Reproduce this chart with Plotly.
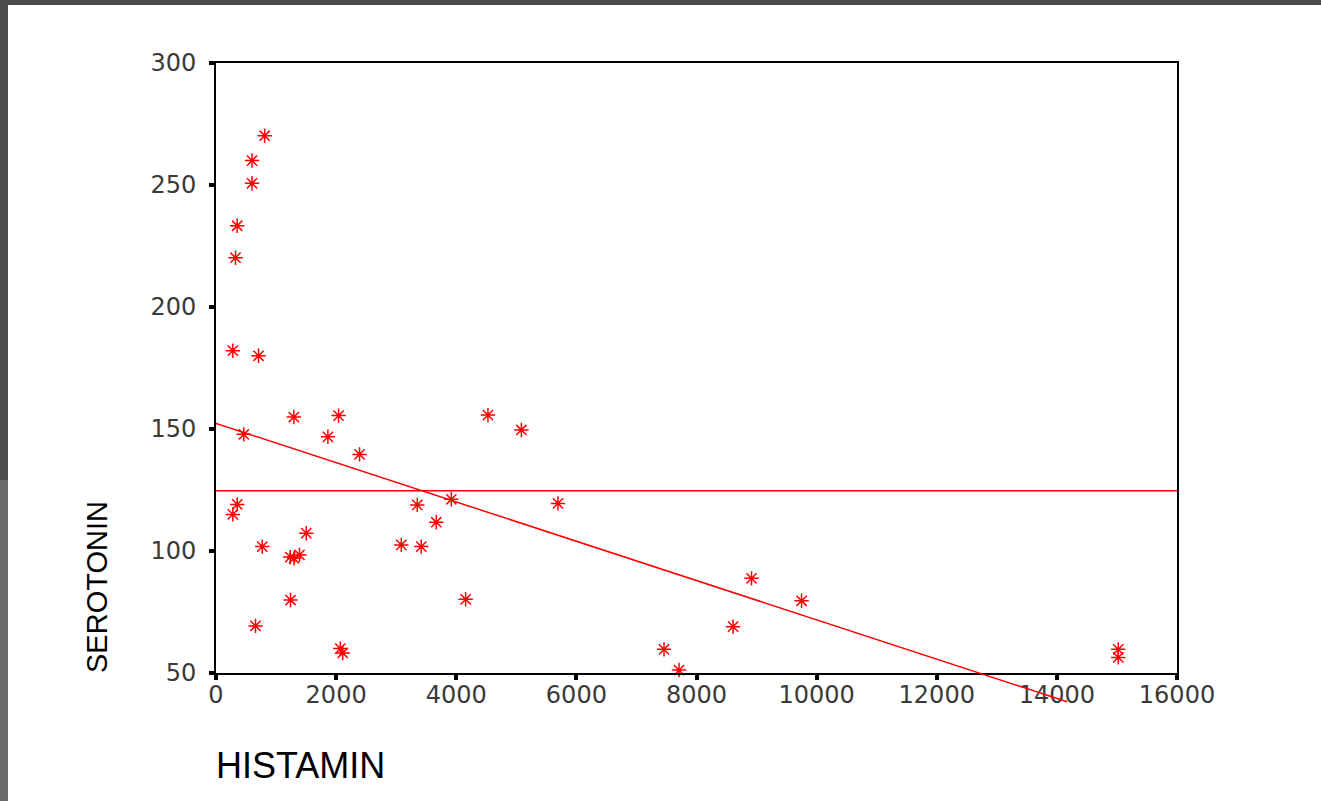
import plotly.graph_objects as go

# ---- data ----
histamin = [810, 600, 600, 353, 325, 280, 708, 1296, 2041, 1863, 463, 2390,
            353, 280, 770, 1503, 1236, 1300, 1390, 1241, 658, 2070, 2110,
            4528, 5084, 3351, 3918, 5694, 3668, 3085, 3418, 4156,
            8916, 9749, 8609, 7459, 7709, 15022, 15022]
serotonin = [270.2, 260, 250.7, 233.3, 220.2, 182.1, 180, 154.9, 155.5, 146.8, 147.8, 139.6,
             119.1, 115, 101.8, 107.3, 97.5, 97, 98.4, 79.9, 69.3, 60, 58.2,
             155.7, 149.6, 118.9, 121.2, 119.5, 111.8, 102.5, 101.8, 80.2,
             88.8, 79.6, 69, 59.7, 51.2, 59.7, 56.4]
fit_x = [0, 14170]          # fitted regression line end points
fit_y = [152.3, 38.2]
mean_x = [0, 16000]         # mean line
mean_y = [124.7, 124.7]

x_ticks = [0, 2000, 4000, 6000, 8000, 10000, 12000, 14000, 16000]
x_ticktext = ["0", "2000", "4000", "6000", "8000", "10000", "12000", "14000", "16000"]
y_ticks = [50, 100, 150, 200, 250, 300]
y_ticktext = ["50", "100", "150", "200", "250", "300"]
x_title = "HISTAMIN"
y_title = "SEROTONIN"

# ---- layout geometry (pixels) ----
W, H = 1321, 801
L, R, T, B = 216, 144, 63, 81
plot_w = W - L - R
plot_h = H - T - B
axis_bottom_px = 673
d0 = (H - B - axis_bottom_px) / plot_h   # main y-axis domain start
ymin, ymax = 50, 300
y2min = ymin - (ymax - ymin) * d0 / (1 - d0)


def px_x(px):
    return (px - L) / plot_w


def px_y(py):
    return (H - B - py) / plot_h


RED = "#ff0000"
tickfont = dict(family="DejaVu Sans", size=24, color="#3a3a3a")

fig = go.Figure()
fig.add_trace(go.Scatter(x=mean_x, y=mean_y, mode="lines", xaxis="x", yaxis="y",
                         line=dict(color=RED, width=1.5), hoverinfo="skip"))
fig.add_trace(go.Scatter(x=fit_x, y=fit_y, mode="lines", xaxis="x", yaxis="y2",
                         line=dict(color=RED, width=1.5), hoverinfo="skip"))
fig.add_trace(go.Scatter(x=histamin, y=serotonin, mode="markers", xaxis="x", yaxis="y",
                         marker=dict(symbol="asterisk-open", size=12,
                                     line=dict(color=RED, width=1.5), color=RED),
                         cliponaxis=False))

fig.update_layout(
    width=W, height=H,
    margin=dict(l=L, r=R, t=T, b=B, pad=0),
    paper_bgcolor="white", plot_bgcolor="rgba(0,0,0,0)",
    showlegend=False,
    xaxis=dict(range=[0, 16000], tickvals=x_ticks, ticktext=x_ticktext,
               domain=[0, 1], anchor="y",
               showline=True, linewidth=2, linecolor="black", mirror=True,
               ticks="outside", ticklen=5, tickwidth=4, tickcolor="black",
               showgrid=False, zeroline=False, tickfont=tickfont,
               ticklabelstandoff=-6),
    yaxis=dict(range=[ymin, ymax], tickvals=y_ticks, ticktext=y_ticktext,
               domain=[d0, 1], anchor="x",
               showline=True, linewidth=2, linecolor="black", mirror=True,
               ticks="outside", ticklen=5, tickwidth=4, tickcolor="black",
               showgrid=False, zeroline=False, tickfont=tickfont,
               ticklabelstandoff=8),
    yaxis2=dict(range=[y2min, ymax], domain=[0, 1], anchor="x", visible=False,
                showgrid=False, zeroline=False),
)

# window frame bands
fig.add_shape(type="rect", xref="paper", yref="paper",
              x0=px_x(0), x1=px_x(W), y0=px_y(5), y1=px_y(0),
              fillcolor="#4b4b4b", line_width=0, layer="above")
fig.add_shape(type="rect", xref="paper", yref="paper",
              x0=px_x(0), x1=px_x(8), y0=px_y(480), y1=px_y(0),
              fillcolor="#4b4b4b", line_width=0, layer="above")
fig.add_shape(type="rect", xref="paper", yref="paper",
              x0=px_x(0), x1=px_x(8), y0=px_y(H), y1=px_y(480),
              fillcolor="#6a6a6a", line_width=0, layer="above")

fig.add_annotation(text=x_title, xref="paper", yref="paper",
                   x=px_x(214), y=px_y(765), xanchor="left", yanchor="middle",
                   showarrow=False,
                   font=dict(family="Liberation Sans", size=36, color="black"))
fig.add_annotation(text=y_title, xref="paper", yref="paper",
                   x=px_x(97), y=px_y(587), xanchor="center", yanchor="middle",
                   textangle=-90, showarrow=False,
                   font=dict(family="Liberation Sans", size=29, color="black"))

fig.write_html("out.html", config={"displayModeBar": False},
               post_script="document.body.style.margin='0';document.body.style.overflow='hidden';")
